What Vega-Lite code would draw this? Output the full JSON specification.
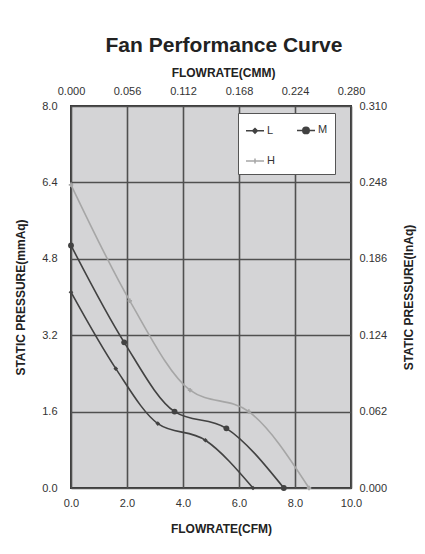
{
  "$schema": "https://vega.github.io/schema/vega-lite/v6.json",
  "autosize": "none",
  "width": 280,
  "height": 382,
  "padding": {"left": 71, "top": 106, "right": 74, "bottom": 66},
  "background": "white",
  "title": {
    "text": "Fan Performance Curve",
    "font": "Liberation Sans",
    "fontSize": 21,
    "fontWeight": "bold",
    "color": "#222222",
    "anchor": "middle",
    "dx": 13,
    "offset": 10
  },
  "config": {
    "font": "Liberation Sans",
    "view": {"fill": "#d4d4d6", "stroke": "#3a3a3a", "strokeWidth": 2},
    "axis": {
      "labelFont": "Liberation Sans",
      "labelFontSize": 11,
      "labelColor": "#333333",
      "labelFlush": false,
      "labelOverlap": false,
      "titleFont": "Liberation Sans",
      "titleFontSize": 12,
      "titleFontWeight": "bold",
      "titleColor": "#222222",
      "domain": false,
      "ticks": false
    }
  },
  "layer": [
    {
      "data": {
        "values": [
          {"series": "L", "cfm": 0, "mmaq": 4.1},
          {"series": "L", "cfm": 1.6, "mmaq": 2.5},
          {"series": "L", "cfm": 3.1, "mmaq": 1.35},
          {"series": "L", "cfm": 4.8, "mmaq": 1.0},
          {"series": "L", "cfm": 6.5, "mmaq": 0},
          {"series": "M", "cfm": 0, "mmaq": 5.08},
          {"series": "M", "cfm": 1.9, "mmaq": 3.05},
          {"series": "M", "cfm": 3.7, "mmaq": 1.6},
          {"series": "M", "cfm": 5.55, "mmaq": 1.25},
          {"series": "M", "cfm": 7.6, "mmaq": 0},
          {"series": "H", "cfm": 0, "mmaq": 6.35},
          {"series": "H", "cfm": 2.1, "mmaq": 3.92},
          {"series": "H", "cfm": 4.25, "mmaq": 2.05},
          {"series": "H", "cfm": 6.35, "mmaq": 1.6},
          {"series": "H", "cfm": 8.5, "mmaq": 0}
        ]
      },
      "encoding": {
        "x": {
          "field": "cfm",
          "type": "quantitative",
          "scale": {"domain": [0, 10], "nice": false, "zero": false},
          "axis": {
            "orient": "bottom",
            "values": [0, 2, 4, 6, 8, 10],
            "format": ".1f",
            "title": "FLOWRATE(CFM)",
            "grid": true,
            "gridColor": "#505050",
            "gridWidth": 1.6,
            "labelPadding": 9,
            "titlePadding": 15,
            "titleX": 150
          }
        },
        "y": {
          "field": "mmaq",
          "type": "quantitative",
          "scale": {"domain": [0, 8], "nice": false, "zero": false},
          "axis": {
            "orient": "left",
            "values": [0, 1.6, 3.2, 4.8, 6.4, 8],
            "format": ".1f",
            "title": "STATIC PRESSURE(mmAq)",
            "grid": true,
            "gridColor": "#505050",
            "gridWidth": 1.6,
            "labelPadding": 14,
            "titlePadding": 14
          }
        }
      },
      "layer": [
        {
          "mark": {"type": "line", "interpolate": "monotone", "strokeWidth": 1.6},
          "encoding": {
            "color": {
              "field": "series",
              "type": "nominal",
              "scale": {"domain": ["L", "M", "H"], "range": ["#424242", "#424242", "#a6a6a6"]},
              "legend": {
                "title": null,
                "orient": "none",
                "legendX": 167,
                "legendY": 7,
                "direction": "horizontal",
                "columns": 2,
                "fillColor": "white",
                "strokeColor": "#555555",
                "padding": 7,
                "rowPadding": 14,
                "columnPadding": 19,
                "labelFont": "Liberation Sans",
                "labelFontSize": 11,
                "labelColor": "#333333",
                "labelOffset": 2,
                "symbolSize": 324,
                "symbolStrokeWidth": 1.5,
                "symbolType": "M-1,0H1M-0.3,0A0.3,0.3,0,1,1,0.3,0A0.3,0.3,0,1,1,-0.3,0Z",
                "encode": {
                  "symbols": {
                    "update": {
                      "shape": {"signal": "datum.value === 'H' ? 'M-1,0H1M0,-0.28V0.28' : datum.value === 'M' ? 'M-1,0H1M-0.36,0A0.36,0.36,0,1,1,0.36,0A0.36,0.36,0,1,1,-0.36,0Z' : 'M-1,0H1M-0.26,0L0,-0.26L0.26,0L0,0.26Z'"},
                      "fill": {"value": "#424242"},
                      "fillOpacity": {"value": 1}
                    }
                  }
                }
              }
            }
          }
        },
        {
          "transform": [{"filter": "datum.series === 'L'"}],
          "mark": {"type": "point", "filled": true, "opacity": 1, "shape": "diamond", "size": 22, "color": "#424242"}
        },
        {
          "transform": [{"filter": "datum.series === 'M'"}],
          "mark": {"type": "point", "filled": true, "opacity": 1, "shape": "circle", "size": 34, "color": "#424242"}
        },
        {
          "transform": [{"filter": "datum.series === 'H'"}],
          "mark": {"type": "point", "filled": true, "opacity": 1, "shape": "cross", "size": 20, "color": "#a6a6a6"}
        }
      ]
    },
    {
      "data": {"values": [{"cmm": 0, "inaq": 0}]},
      "mark": {"type": "point", "opacity": 0},
      "encoding": {
        "x": {
          "field": "cmm",
          "type": "quantitative",
          "scale": {"domain": [0, 0.28], "nice": false, "zero": false},
          "axis": {
            "orient": "top",
            "values": [0, 0.056, 0.112, 0.168, 0.224, 0.28],
            "format": ".3f",
            "title": "FLOWRATE(CMM)",
            "grid": false,
            "labelPadding": 10,
            "titlePadding": 6,
            "titleX": 152
          }
        },
        "y": {
          "field": "inaq",
          "type": "quantitative",
          "scale": {"domain": [0, 0.31], "nice": false, "zero": false},
          "axis": {
            "orient": "right",
            "values": [0, 0.062, 0.124, 0.186, 0.248, 0.31],
            "format": ".3f",
            "title": "STATIC PRESSURE(InAq)",
            "titleAngle": 270,
            "grid": false,
            "labelPadding": 8,
            "titlePadding": 29
          }
        }
      }
    }
  ],
  "resolve": {"scale": {"x": "independent", "y": "independent"}}
}
